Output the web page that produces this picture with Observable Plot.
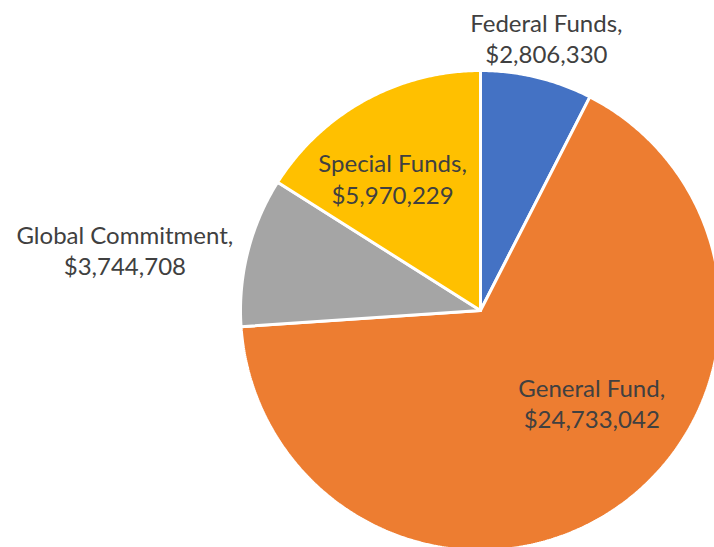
<!DOCTYPE html>
<html>
<head>
<meta charset="utf-8">
<script src="https://cdn.jsdelivr.net/npm/d3@7"></script>
<script src="https://cdn.jsdelivr.net/npm/@observablehq/plot@0.6"></script>
<style>
  html, body { margin: 0; padding: 0; background: #fff; }
  #chart svg { display: block; }
</style>
</head>
<body>
<div id="chart"></div>
<script>
// ---- data ----
const categories = ["Federal Funds", "General Fund", "Global Commitment", "Special Funds"];
const values = [2806330, 24733042, 3744708, 5970229];
const colors = ["#4472C4", "#ED7D31", "#A5A5A5", "#FFC000"];

// ---- label placement (radius factor along slice mid-angle, pixel offsets) ----
const labelLayout = {
  "Federal Funds":     {k: 1.17, dx: 0,    dy: 0},
  "General Fund":      {k: 0.60, dx: 32,   dy: -28},
  "Global Commitment": {k: 1.00, dx: -123, dy: -2},
  "Special Funds":     {k: 0.63, dx: -15,  dy: 0}
};

const W = 714, H = 547, cx = 480, cy = 310, R = 240;
const fmt = d3.format("$,");

// pie angles, clockwise from 12 o'clock, in the data order
const arcs = d3.pie().sort(null).value(d => d.value)(
  categories.map((name, i) => ({name, value: values[i]}))
);

// slice outlines as polygons in unit coordinates
const slicePts = [];
for (const a of arcs) {
  const name = a.data.name;
  slicePts.push({name, x: 0, y: 0});
  const n = Math.max(2, Math.ceil((a.endAngle - a.startAngle) / (Math.PI / 360)));
  for (let j = 0; j <= n; j++) {
    const t = a.startAngle + (a.endAngle - a.startAngle) * j / n;
    slicePts.push({name, x: Math.sin(t), y: Math.cos(t)});
  }
  slicePts.push({name, x: 0, y: 0});
}

const labels = arcs.map(a => {
  const m = (a.startAngle + a.endAngle) / 2;
  const L = labelLayout[a.data.name];
  return {
    name: a.data.name,
    text: `${a.data.name},\n${fmt(a.data.value)}`,
    x: L.k * Math.sin(m), y: L.k * Math.cos(m), dx: L.dx, dy: L.dy
  };
});

const chart = Plot.plot({
  width: W, height: H,
  margin: 0,
  x: {domain: [-cx / R, (W - cx) / R], axis: null},
  y: {domain: [(cy - H) / R, cy / R], axis: null},
  color: {domain: categories, range: colors},
  style: {fontFamily: "Lato, sans-serif", background: "white", overflow: "hidden"},
  marks: [
    Plot.line(slicePts, {x: "x", y: "y", z: "name", fill: "name", stroke: "white", strokeWidth: 3, strokeLinejoin: "miter", curve: "linear"}),
    ...labels.map(l => Plot.text([l], {
      x: "x", y: "y", text: "text", dx: l.dx, dy: l.dy,
      fill: "#404040", fontSize: 24, lineHeight: 1.3
    }))
  ]
});
document.getElementById("chart").append(chart);
</script>
</body>
</html>
